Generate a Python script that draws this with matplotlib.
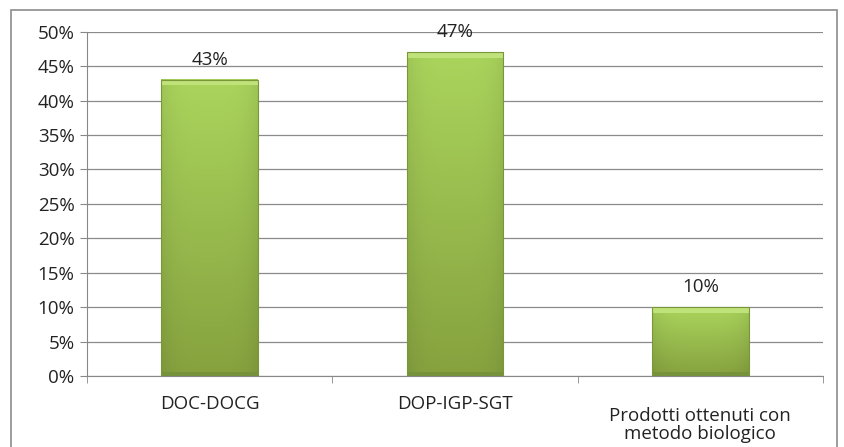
import numpy as np
import matplotlib
matplotlib.use('Agg')
from matplotlib import pyplot as plt
from matplotlib.colors import to_rgb
from matplotlib.patches import Rectangle
from matplotlib.transforms import ScaledTranslation

categories = ['DOC-DOCG', 'DOP-IGP-SGT', 'Prodotti ottenuti con\nmetodo biologico']
values = [43, 47, 10]
labels = ['43%', '47%', '10%']
yticks = [0, 5, 10, 15, 20, 25, 30, 35, 40, 45, 50]

plt.rcParams['font.family'] = ['Open Sans', 'DejaVu Sans']

fig = plt.figure(figsize=(8.45, 4.47), dpi=100)
ax = fig.add_axes([0.103, 0.159, 0.871, 0.770])

# outer chart border
fig.patches.append(Rectangle((0.013, -0.05), 0.978, 1.028, transform=fig.transFigure,
                             fill=False, edgecolor='#8c8c8c', linewidth=1.2))

x = np.arange(len(categories))
bars = ax.bar(x, values, width=0.395, color='#9dc64f', edgecolor='none', zorder=2)

# shading: lighter at top, darker at bottom, a bit darker at the sides
top = np.array(to_rgb('#aad45c'))
bot = np.array(to_rgb('#86a23f'))
for b in bars:
    x0, w, h = b.get_x(), b.get_width(), b.get_height()
    t = np.linspace(0, 1, 60)[:, None, None]          # 0 at top row
    col = top * (1 - t) + bot * t
    hx = np.linspace(-1, 1, 100)
    side = 1 - 0.07 * np.abs(hx) ** 4
    img = col * side[None, :, None]
    ax.imshow(np.clip(img, 0, 1), extent=[x0, x0 + w, 0, h], aspect='auto',
              zorder=2.1, interpolation='bilinear')
    ax.add_patch(Rectangle((x0, h - 0.8), w, 0.8, facecolor='#bfe27a', edgecolor='none', zorder=2.2))
    ax.add_patch(Rectangle((x0, 0), w, 0.6, facecolor='#76923a', edgecolor='none', zorder=2.2))
    ax.add_patch(Rectangle((x0, 0), w, h, facecolor='none', edgecolor='#7a9638', linewidth=0.8, zorder=2.3))

for i, v in enumerate(values):
    ax.text(x[i], v + 1.6, labels[i], ha='center', va='bottom', fontsize=13.5, color='#222222')

ax.set_xlim(-0.5, 2.5)
ax.set_ylim(0, 50)
ax.set_yticks(yticks)
ax.set_yticklabels([f'{t}%' for t in yticks], fontsize=13.5, color='#222222')
ax.set_xticks(x)
ax.set_xticklabels(categories, fontsize=13.5, color='#222222', linespacing=1.05)
ax.tick_params(axis='x', length=0, pad=13.5)
ax.set_xticks([-0.5, 0.5, 1.5, 2.5], minor=True)
ax.tick_params(axis='x', which='minor', length=5, color='#888888')
ax.tick_params(axis='y', length=5, color='#888888', pad=4)

# two-line label sits a little lower in the original
lbl = ax.get_xticklabels()[2]
lbl.set_transform(lbl.get_transform() + ScaledTranslation(0, -0.12, fig.dpi_scale_trans))

ax.grid(axis='y', color='#8a8a8a', linewidth=0.9, zorder=0)
ax.set_axisbelow(True)
for s in ['top', 'right']:
    ax.spines[s].set_visible(False)
ax.spines['left'].set_color('#888888')
ax.spines['bottom'].set_color('#888888')

fig.savefig('out.png', dpi=100)
